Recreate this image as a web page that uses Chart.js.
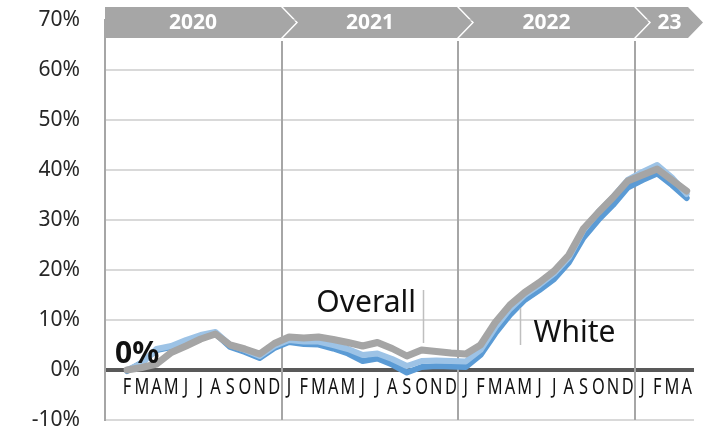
<!DOCTYPE html>
<html>
<head>
<meta charset="utf-8">
<script src="https://cdn.jsdelivr.net/npm/chart.js@4.4.0/dist/chart.umd.min.js"></script>
<style>
  html, body { margin: 0; padding: 0; background: #fff; }
  #wrap { width: 726px; height: 432px; }
</style>
</head>
<body>
<div id="wrap"><canvas id="chart" width="726" height="432"></canvas></div>
<script>
// Months Jan 2020 .. Apr 2023 (Jan 2020 slot is empty)
const months = [
  "", "F", "M", "A", "M", "J", "J", "A", "S", "O", "N", "D",
  "J", "F", "M", "A", "M", "J", "J", "A", "S", "O", "N", "D",
  "J", "F", "M", "A", "M", "J", "J", "A", "S", "O", "N", "D",
  "J", "F", "M", "A"
];
const years = ["2020", "2021", "2022", "23"];
const yearStartIndex = [0, 12, 24, 36];

// % change
const overall = [
  null, 0, 0.5, 1.2, 3.5, 4.8, 6.2, 7.2, 5.0, 4.2, 3.2, 5.3,
  6.6, 6.4, 6.6, 6.1, 5.5, 4.8, 5.5, 4.3, 2.8, 4.0, 3.7, 3.4,
  3.2, 5.0, 9.5, 13.0, 15.5, 17.5, 19.8, 23.0, 28.3, 31.5, 34.5, 37.8,
  39.0, 40.2, 38.0, 35.8
];
const whiteAlt = [
  null, 0, 1.3, 4.2, 4.8, 6.0, 7.0, 7.6, 5.0, 4.0, 2.8, 4.8,
  6.0, 5.7, 5.7, 5.0, 4.2, 3.0, 3.3, 2.2, 0.8, 1.8, 1.9, 1.8,
  1.7, 4.0, 8.5, 12.2, 15.0, 17.0, 19.3, 22.5, 28.0, 31.6, 34.6, 38.0,
  39.6, 41.0, 38.5, 35.2
];
const white = [
  null, -0.2, 1.5, 4.0, 4.6, 5.8, 6.8, 7.3, 4.6, 3.6, 2.4, 4.4,
  5.6, 5.2, 5.1, 4.3, 3.3, 1.8, 2.3, 1.1, -0.5, 0.6, 0.8, 0.7,
  0.6, 3.0, 7.3, 11.0, 14.0, 16.0, 18.2, 21.5, 26.5, 30.0, 33.0, 36.5,
  38.0, 39.3, 37.0, 34.4
];

const FONT = "'Noto Sans', sans-serif";

// Year lines, year band, month labels and text notes
const yearPlugin = {
  id: "yearBands",
  beforeDatasetsDraw(chart) {
    const { ctx, chartArea, scales: { x, y } } = chart;
    ctx.save();
    ctx.strokeStyle = "#A6A6A6";
    ctx.lineWidth = 2;
    yearStartIndex.slice(1).forEach((i) => {
      const px = Math.round((x.getPixelForValue(i - 1) + x.getPixelForValue(i)) / 2);
      ctx.beginPath();
      ctx.moveTo(px, chartArea.top + 21);
      ctx.lineTo(px, chartArea.bottom);
      ctx.stroke();
    });
    // month labels just under the 0% line (narrowed like the original)
    ctx.fillStyle = "#111";
    ctx.font = "21px " + FONT;
    ctx.textAlign = "center";
    ctx.textBaseline = "middle";
    const y0 = y.getPixelForValue(0);
    months.forEach((m, i) => {
      if (!m) return;
      ctx.save();
      ctx.translate(x.getPixelForValue(i), y0 + 18);
      ctx.scale(0.78, 1);
      ctx.fillText(m, 0, 0);
      ctx.restore();
    });
    ctx.restore();
  },
  afterDatasetsDraw(chart) {
    const { ctx, chartArea, scales: { x, y } } = chart;
    ctx.save();
    // leader lines
    ctx.strokeStyle = "#BFBFBF";
    ctx.lineWidth = 1.5;
    [[21.1, 16, 5.4], [27.65, 12.4, 5]].forEach(([i, v1, v2]) => {
      const px = Math.round(x.getPixelForValue(i)) + 0.5;
      ctx.beginPath();
      ctx.moveTo(px, y.getPixelForValue(v1));
      ctx.lineTo(px, y.getPixelForValue(v2));
      ctx.stroke();
    });
    ctx.fillStyle = "#111";
    ctx.textAlign = "left";
    ctx.textBaseline = "middle";
    ctx.font = "30px " + FONT;
    ctx.fillText("Overall", x.getPixelForValue(13.85), y.getPixelForValue(13.4));
    ctx.fillText("White", x.getPixelForValue(28.6), y.getPixelForValue(7.3));
    ctx.font = "bold 30px " + FONT;
    ctx.fillText("0%", chartArea.left + 10, y.getPixelForValue(3.1));
    ctx.restore();
  },
  afterDraw(chart) {
    const { ctx, chartArea, scales: { x } } = chart;
    const top = chartArea.top - 13;
    const bottom = chartArea.top + 18;
    const mid = (top + bottom) / 2;
    const d = 15;
    const bounds = yearStartIndex.map((i) =>
      i === 0 ? chartArea.left : Math.round((x.getPixelForValue(i - 1) + x.getPixelForValue(i)) / 2)
    );
    bounds.push(chartArea.right - 6);
    ctx.save();
    years.forEach((yr, k) => {
      const L = k === 0 ? bounds[0] : bounds[k] + 1;
      const R = k === years.length - 1 ? bounds[k + 1] : bounds[k + 1] - 1;
      ctx.fillStyle = "#A6A6A6";
      ctx.beginPath();
      ctx.moveTo(L, top);
      ctx.lineTo(R, top);
      ctx.lineTo(R + d, mid);
      ctx.lineTo(R, bottom);
      ctx.lineTo(L, bottom);
      if (k > 0) ctx.lineTo(L + d, mid);
      ctx.closePath();
      ctx.fill();
      ctx.fillStyle = "#fff";
      ctx.font = "bold 21px " + FONT;
      ctx.textAlign = "center";
      ctx.textBaseline = "middle";
      const cx = k === years.length - 1 ? (L + R) / 2 + d / 2 : (L + R) / 2;
      ctx.fillText(yr, cx, mid + 1);
    });
    ctx.restore();
  }
};

const ctx = document.getElementById("chart").getContext("2d");
new Chart(ctx, {
  type: "line",
  data: {
    labels: months,
    datasets: [
      { label: "Overall", data: overall, borderColor: "#A5A5A5", borderWidth: 7, order: 0 },
      { label: "White (alt)", data: whiteAlt, borderColor: "#9DC3E6", borderWidth: 6, order: 1 },
      { label: "White", data: white, borderColor: "#5B9BD5", borderWidth: 6, order: 2 }
    ]
  },
  options: {
    responsive: false,
    animation: false,
    devicePixelRatio: 1,
    layout: { padding: { top: 20, right: 32, bottom: 12, left: 0 } },
    elements: {
      point: { radius: 0 },
      line: { tension: 0, borderJoinStyle: "round", borderCapStyle: "round", fill: false }
    },
    plugins: {
      legend: { display: false },
      tooltip: { enabled: false }
    },
    scales: {
      x: {
        display: false,
        offset: true
      },
      y: {
        min: -10,
        max: 70,
        ticks: {
          stepSize: 10,
          padding: 25,
          color: "#262626",
          font: { family: FONT, size: 21 },
          callback: (v) => v + "%"
        },
        grid: {
          drawTicks: false,
          color: (c) => (c.tick && c.tick.value === 0 ? "#595959" : "#D9D9D9"),
          lineWidth: (c) => (c.tick && c.tick.value === 0 ? 4 : 2)
        },
        border: { display: true, color: "#A6A6A6", width: 2 },
        afterFit: (s) => {
          s.width = 105;
          s.paddingTop = 0;
          s.paddingBottom = 0;
        }
      }
    }
  },
  plugins: [yearPlugin]
});
</script>
</body>
</html>
